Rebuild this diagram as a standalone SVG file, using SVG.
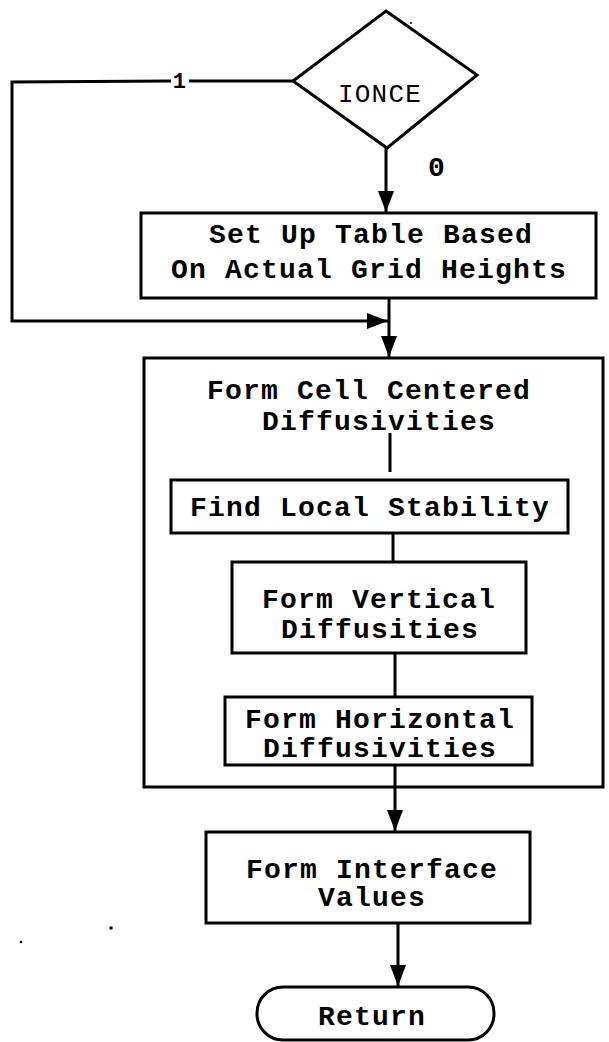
<svg xmlns="http://www.w3.org/2000/svg" width="609" height="1042" viewBox="0 0 609 1042">
  <style>
    .box { fill: #ffffff; stroke: #000000; stroke-width: 3; }
    .line { fill: none; stroke: #000000; stroke-width: 3; }
    .lbl { font-family: "Liberation Mono", "DejaVu Sans Mono", monospace; font-size: 28px; font-weight: bold; letter-spacing: 1.2px; fill: #000000; text-anchor: middle; }
    .thin { font-weight: normal; }
  </style>
  <defs>
    <marker id="arrow" markerUnits="userSpaceOnUse" markerWidth="22" markerHeight="18" refX="21" refY="8" orient="auto">
      <path d="M0,0 L21,8 L0,16 Z" fill="#000000"/>
    </marker>
  </defs>

  <rect width="609" height="1042" fill="#ffffff"/>

  <!-- connectors -->
  <g id="connectors">
    <!-- decision "0" branch down to the table setup -->
    <path class="line" d="M386,148 L386,212" marker-end="url(#arrow)"/>
    <!-- decision "1" branch: bypass loop on the left -->
    <path class="line" d="M293,81 L189,81"/>
    <path class="line" d="M171,81 L12,82 L12,321 L388,321" marker-end="url(#arrow)"/>
    <!-- table setup down to the diffusivity block -->
    <path class="line" d="M389,298 L389,357" marker-end="url(#arrow)"/>
    <!-- inner chain -->
    <path class="line" d="M390,433 L390,472"/>
    <path class="line" d="M393,533 L393,562"/>
    <path class="line" d="M395,653 L395,697"/>
    <!-- out of the block to interface values -->
    <path class="line" d="M395,765 L395,831" marker-end="url(#arrow)"/>
    <path class="line" d="M398,923 L398,986" marker-end="url(#arrow)"/>
  </g>

  <!-- decision IONCE -->
  <g id="ionce">
    <polygon class="box" points="386,11 477,75 387,148 293,81"/>
    <text class="lbl thin" x="380" y="102" style="font-size:26px">IONCE</text>
    <text class="lbl" x="180" y="88" style="font-size:22px">1</text>
    <text class="lbl" x="437" y="176">0</text>
  </g>

  <!-- set up table -->
  <g id="setup-table">
    <rect class="box" x="141" y="213" width="455" height="85"/>
    <text class="lbl" x="371" y="243">Set Up Table Based</text>
    <text class="lbl" x="369" y="278">On Actual Grid Heights</text>
  </g>

  <!-- cell centered diffusivities block -->
  <g id="cell-centered">
    <rect class="line" x="144" y="358" width="459" height="429"/>
    <text class="lbl" x="369" y="399">Form Cell Centered</text>
    <text class="lbl" x="379" y="430">Diffusivities</text>
  </g>

  <g id="local-stability">
    <rect class="box" x="171" y="480" width="397" height="53"/>
    <text class="lbl" x="370" y="516">Find Local Stability</text>
  </g>

  <g id="vertical-diff">
    <rect class="box" x="232" y="562" width="294" height="91"/>
    <text class="lbl" x="379" y="608">Form Vertical</text>
    <text class="lbl" x="380" y="638">Diffusities</text>
  </g>

  <g id="horizontal-diff">
    <rect class="box" x="225" y="697" width="307" height="68"/>
    <text class="lbl" x="380" y="728">Form Horizontal</text>
    <text class="lbl" x="380" y="757">Diffusivities</text>
  </g>

  <g id="interface-values">
    <rect class="box" x="206" y="832" width="324" height="91"/>
    <text class="lbl" x="372" y="878">Form Interface</text>
    <text class="lbl" x="372" y="906">Values</text>
  </g>

  <g id="return">
    <rect class="box" x="257" y="987" width="237" height="53" rx="26" ry="26"/>
    <text class="lbl" x="372" y="1025">Return</text>
  </g>

  <!-- stray specks -->
  <g id="specks" fill="#000000">
    <circle cx="111" cy="928" r="1.8"/>
    <circle cx="21" cy="942" r="1.3"/>
    <circle cx="411" cy="23" r="1"/>
  </g>
</svg>
